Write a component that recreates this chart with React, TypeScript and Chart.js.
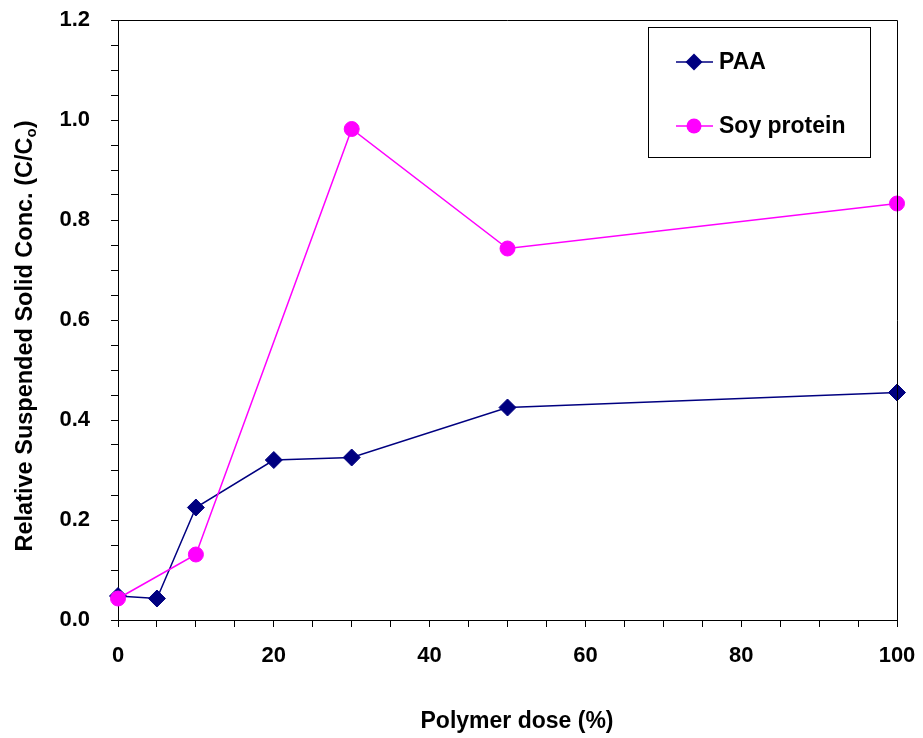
import React, { useEffect, useRef } from "react";
import { Chart, registerables } from "chart.js";

Chart.register(...registerables);

const paaDose = [0, 5, 10, 20, 30, 50, 100];
const paaValues = [0.048, 0.043, 0.225, 0.32, 0.325, 0.425, 0.455];
const soyDose = [0, 10, 30, 50, 100];
const soyValues = [0.043, 0.131, 0.982, 0.743, 0.833];
const seriesNames = ["PAA", "Soy protein"];
const xTitle = "Polymer dose (%)";
const yTitleMain = "Relative Suspended Solid Conc. (C/C";
const yTitleSub = "o";
const yTitleEnd = ")";

const FONT = "'Liberation Sans', Arial, sans-serif";

const overlayPlugin = {
  id: "overlay",
  afterDraw(chart: any) {
    const ctx = chart.ctx;
    const a = chart.chartArea;
    ctx.save();
    // plot border
    ctx.strokeStyle = "#000";
    ctx.lineWidth = 1;
    ctx.beginPath();
    ctx.moveTo(Math.round(a.left), Math.round(a.top) + 0.5);
    ctx.lineTo(Math.round(a.right) + 0.5, Math.round(a.top) + 0.5);
    ctx.lineTo(Math.round(a.right) + 0.5, Math.round(a.bottom));
    ctx.stroke();

    // x title
    ctx.fillStyle = "#000";
    ctx.font = `bold 23px ${FONT}`;
    ctx.textAlign = "center";
    ctx.textBaseline = "alphabetic";
    ctx.fillText(xTitle, 517, 728);

    // y title with subscript
    ctx.save();
    ctx.translate(32, 336);
    ctx.rotate(-Math.PI / 2);
    ctx.textAlign = "left";
    const big = `bold 23.5px ${FONT}`;
    const small = `bold 15px ${FONT}`;
    ctx.font = big;
    const w1 = ctx.measureText(yTitleMain).width;
    const w3 = ctx.measureText(yTitleEnd).width;
    ctx.font = small;
    const w2 = ctx.measureText(yTitleSub).width;
    let x = -(w1 + w2 + w3) / 2;
    ctx.font = big;
    ctx.fillText(yTitleMain, x, 0);
    x += w1;
    ctx.font = small;
    ctx.fillText(yTitleSub, x, 4);
    x += w2;
    ctx.font = big;
    ctx.fillText(yTitleEnd, x, 0);
    ctx.restore();

    // legend
    ctx.fillStyle = "#fff";
    ctx.fillRect(648.5, 27.5, 222, 130);
    ctx.strokeStyle = "#000";
    ctx.lineWidth = 1;
    ctx.strokeRect(648.5, 27.5, 222, 130);
    const rows = [62, 126];
    chart.data.datasets.forEach((ds: any) => {
      const idx = ds.label === seriesNames[0] ? 0 : 1;
      const y = rows[idx];
      ctx.strokeStyle = ds.borderColor;
      ctx.lineWidth = ds.borderWidth;
      ctx.beginPath();
      ctx.moveTo(676, y);
      ctx.lineTo(713, y);
      ctx.stroke();
      ctx.fillStyle = ds.pointBackgroundColor;
      ctx.beginPath();
      if (ds.pointStyle === "rectRot") {
        const r = ds.pointRadius;
        ctx.moveTo(694 - r, y);
        ctx.lineTo(694, y - r);
        ctx.lineTo(694 + r, y);
        ctx.lineTo(694, y + r);
        ctx.closePath();
      } else {
        ctx.arc(694, y, ds.pointRadius, 0, Math.PI * 2);
      }
      ctx.fill();
      ctx.fillStyle = "#000";
      ctx.font = `bold 23px ${FONT}`;
      ctx.textAlign = "left";
      ctx.textBaseline = "middle";
      ctx.fillText(ds.label, 719, y + 1);
    });
    ctx.restore();
  },
};

function isMultiple(v: number, step: number) {
  const r = v / step;
  return Math.abs(r - Math.round(r)) < 1e-6;
}

export default function App() {
  const ref = useRef<HTMLCanvasElement | null>(null);
  useEffect(() => {
    document.body.style.margin = "0";
    const canvas = ref.current!;
    const chart = new Chart(canvas, {
      type: "line",
      data: {
        datasets: [
          {
            label: seriesNames[0],
            data: paaDose.map((d, i) => ({ x: d, y: paaValues[i] })),
            borderColor: "#000080",
            backgroundColor: "#000080",
            pointBackgroundColor: "#000080",
            pointBorderColor: "#000080",
            borderWidth: 1.5,
            pointStyle: "rectRot",
            pointRadius: 8.5,
            pointBorderWidth: 1,
            order: 1,
            tension: 0,
            clip: false,
          },
          {
            label: seriesNames[1],
            data: soyDose.map((d, i) => ({ x: d, y: soyValues[i] })),
            borderColor: "#FF00FF",
            backgroundColor: "#FF00FF",
            pointBackgroundColor: "#FF00FF",
            pointBorderColor: "#FF00FF",
            borderWidth: 1.5,
            pointStyle: "circle",
            pointRadius: 7.5,
            pointBorderWidth: 1,
            order: 0,
            tension: 0,
            clip: false,
          },
        ] as any,
      },
      options: {
        animation: false,
        responsive: false,
        layout: { autoPadding: false, padding: { left: 0, right: 26, top: 20, bottom: 0 } },
        plugins: { legend: { display: false }, tooltip: { enabled: false }, title: { display: false } },
        scales: {
          x: {
            type: "linear",
            min: 0,
            max: 100,
            afterFit(scale: any) {
              scale.height = 118;
              scale.paddingLeft = 0;
              scale.paddingRight = 0;
            },
            ticks: {
              stepSize: 5,
              autoSkip: false,
              maxRotation: 0,
              padding: 16,
              color: "#000",
              font: { family: FONT, size: 22, weight: "bold" },
              callback: (v: any) => (isMultiple(Number(v), 20) ? String(Math.round(Number(v))) : ""),
            },
            grid: { drawOnChartArea: false, drawTicks: true, tickLength: 7, tickColor: "#000", color: "#000" },
            border: { display: true, color: "#000", width: 1 },
          },
          y: {
            type: "linear",
            min: 0,
            max: 1.2,
            afterFit(scale: any) {
              scale.width = 118;
              scale.paddingTop = 0;
              scale.paddingBottom = 0;
            },
            ticks: {
              stepSize: 0.05,
              autoSkip: false,
              padding: 21,
              color: "#000",
              font: { family: FONT, size: 22, weight: "bold" },
              callback: (v: any) => (isMultiple(Number(v), 0.2) ? Number(v).toFixed(1) : ""),
            },
            grid: { drawOnChartArea: false, drawTicks: true, tickLength: 7, tickColor: "#000", color: "#000" },
            border: { display: true, color: "#000", width: 1 },
          },
        },
      },
      plugins: [overlayPlugin],
    });
    return () => chart.destroy();
  }, []);
  return (
    <div style={{ width: 923, height: 738, background: "#fff" }}>
      <canvas ref={ref} width={923} height={738} />
    </div>
  );
}
